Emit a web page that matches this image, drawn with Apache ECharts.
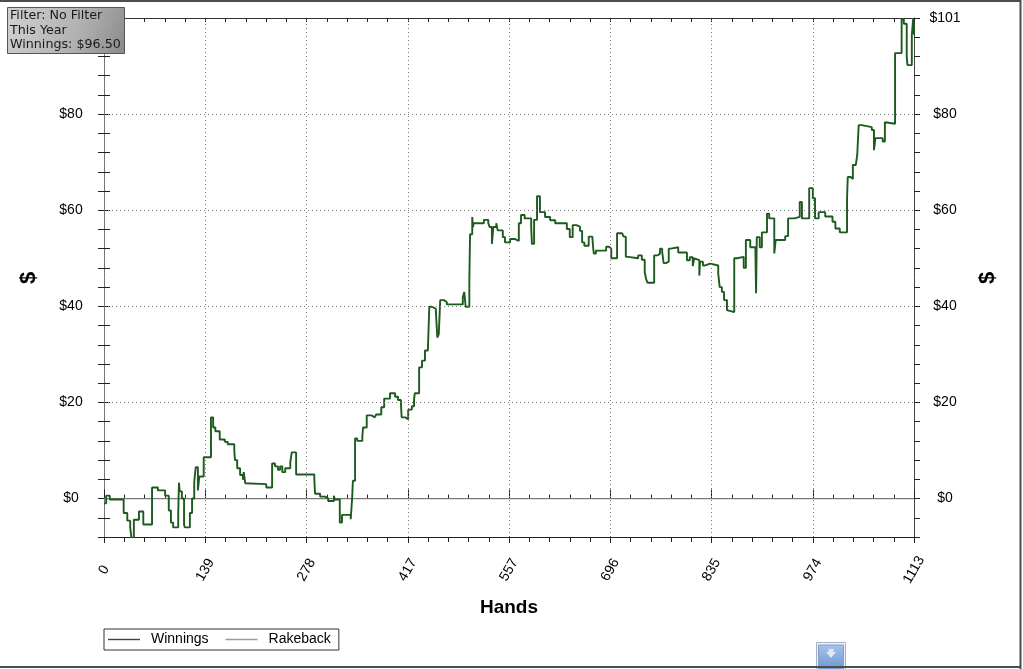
<!DOCTYPE html>
<html><head><meta charset="utf-8">
<script src="https://cdn.jsdelivr.net/npm/echarts@6/dist/echarts.min.js"></script>
<style>html,body{margin:0;padding:0;background:#fff;overflow:hidden}#c{width:1023px;height:669px}</style>
</head><body><div id="c"></div>
<script>
// ---------------- data ----------------
const handsMax = 1113;
const xTickLabels = ['0', '139', '278', '417', '557', '696', '835', '974', '1113'];
const yTickValues = [0, 20, 40, 60, 80, 100];
const yTickLabels = ['$0', '$20', '$40', '$60', '$80', '$101'];
const yMin = -8;
const yMax = 100;

const winningsHands = [
  0, 3, 8, 27, 32, 36, 38, 41, 48, 54, 66, 74, 84, 89, 92, 95, 102, 103, 104, 107,
  110, 111, 118, 121, 124, 126, 129, 131, 137, 147, 150, 153, 159, 166, 170, 179, 180, 183, 187, 191,
  192, 194, 196, 223, 231, 235, 239, 242, 245, 249, 256, 258, 264, 289, 290, 297, 304, 308, 316, 317,
  324, 327, 339, 341, 342, 345,
  348, 355, 356, 361, 368, 372, 374, 381, 385, 393, 400, 404, 408, 409, 414, 418, 423, 426, 427, 433,
  437, 441, 445, 447, 451, 456, 458, 460, 462, 467, 471, 493, 495, 497, 502, 503, 506, 507, 508, 522,
  528, 530, 533, 535, 539, 541, 548, 551, 558, 565, 570, 573, 578, 587, 588, 591, 595, 599, 606, 613,
  620, 636, 640,
  644, 649, 654, 657, 660, 666, 671, 672, 673, 676, 690, 694, 697, 705, 712, 714, 717, 720, 734, 739,
  743, 745, 747, 756, 761, 764, 767, 769, 772, 776, 779, 789, 801, 805, 809, 811, 813, 818, 819, 823,
  826, 833, 844, 846, 849, 852, 856,
  857, 866, 870, 879, 882, 888, 895, 896, 897, 901, 904, 911, 914, 921, 923, 936, 940, 949, 956, 959,
  969, 974, 977, 982, 991, 1001, 1005, 1011, 1021, 1022, 1026, 1029, 1033, 1035, 1037, 1041, 1055, 1058, 1060, 1070,
  1073, 1074, 1087, 1096, 1099, 1103, 1104, 1110, 1112, 1113
];
const winningsValues = [
  -1.0, 0.6, -0.2, -3.0, -4.6, -6.0, -8.5, -4.4, -2.7, -5.4, 2.3, 1.7, 0.6, -2.5, -5.0, -6.0, -3.0, 3.3, 1.5, 0.0,
  -5.4, -6.0, -3.0, 0.0, 3.5, 6.5, 1.7, 4.6, 8.6, 16.9, 14.8, 14.0, 12.3, 11.8, 11.3, 10.0, 8.0, 6.3, 4.9, 3.9,
  5.5, 3.2, 3.0, 2.3, 7.3, 6.7, 6.0, 6.7, 5.5, 6.3, 7.6, 9.6, 5.0, 3.9, 1.0, 0.4, 0.0, -0.5, 0.6, -0.2,
  -5.0, -3.4, -4.3, 0.2, 3.7, 12.5,
  12.0, 13.0, 14.8, 17.3, 16.9, 16.7, 17.5, 19.0, 20.8, 21.9, 21.2, 20.5, 19.8, 16.9, 16.5, 18.5, 19.2, 20.5, 21.9, 27.3,
  28.7, 30.8, 31.2, 39.9, 39.5, 39.0, 33.5, 34.2, 41.3, 40.9, 40.4, 41.9, 43.0, 39.9, 45.4, 55.0, 58.6, 56.5, 57.3, 58.0,
  57.3, 56.5, 53.0, 56.5, 57.3, 55.8, 54.4, 53.3, 54.0, 53.6, 57.3, 59.0, 58.3, 56.5, 53.0, 58.0, 62.9, 59.6, 58.6, 57.9,
  57.3, 56.1, 54.4,
  56.9, 56.6, 55.7, 53.3, 52.6, 54.5, 54.1, 52.4, 51.0, 51.6, 52.4, 52.0, 50.0, 55.2, 55.0, 54.5, 50.3, 50.0, 50.6, 49.7,
  47.1, 45.6, 44.9, 50.6, 51.0, 52.0, 51.3, 49.0, 49.3, 52.0, 52.3, 51.2, 49.6, 50.2, 48.4, 50.0, 49.6, 46.4, 49.3, 48.5,
  48.9, 48.5, 46.8, 44.0, 43.0, 41.3, 39.2,
  38.8, 50.0, 50.3, 48.0, 53.8, 52.3, 52.3, 42.7, 54.4, 52.3, 55.4, 59.3, 58.3, 51.0, 53.8, 54.6, 58.3, 58.6, 61.7, 58.3,
  64.6, 62.5, 58.3, 59.6, 58.7, 57.6, 56.2, 55.4, 62.5, 66.9, 66.5, 69.4, 69.0, 71.5, 77.7, 77.3, 76.7, 72.5, 75.0, 74.3,
  78.3, 78.0, 92.7, 99.8, 98.8, 91.9, 90.2, 96.5, 100.0, 96.5
];
const rakebackHands = [0, 1113];
const rakebackValues = [0, 0];
const infoLines = ['Filter: No Filter', 'This Year', 'Winnings: $96.50'];

// ---------------- chart ----------------
const zip = (xs, ys) => xs.map((x, i) => [x, ys[i]]);
const majorX = handsMax / 8;
const FONT = '"Liberation Sans", Arial, sans-serif';

const chart = echarts.init(document.getElementById('c'), null, { renderer: 'canvas' });

function xBase(extra) {
  return Object.assign({
    type: 'value', min: 0, max: handsMax, interval: majorX, gridIndex: 0,
    splitLine: { show: false },
    axisLabel: { show: false },
    axisLine: { show: false },
    axisTick: { show: false }
  }, extra);
}
function yBase(extra) {
  return Object.assign({
    type: 'value', min: yMin, max: yMax, interval: 4, gridIndex: 0,
    splitLine: { show: false },
    axisLabel: { show: false },
    axisLine: { show: false },
    axisTick: { show: false }
  }, extra);
}
const tickStyle = { color: '#222', width: 1 };
const yFormatter = v => {
  const r = Math.round(v);
  if (Math.abs(v - r) > 1e-6) return '';
  const i = yTickValues.indexOf(r);
  return i >= 0 ? yTickLabels[i] : '';
};

const option = {
  animation: false,
  backgroundColor: '#fff',
  grid: { left: 104, right: 109, top: 18, bottom: 132, containLabel: false },
  legend: {
    data: [
      { name: 'Winnings', icon: 'rect', itemStyle: { color: '#1d5a1d' } },
      { name: 'Rakeback', icon: 'rect', itemStyle: { color: '#9a9a9a' } }
    ],
    left: 104, top: 629,
    orient: 'horizontal',
    padding: [3, 8, 3, 4],
    itemGap: 17, itemWidth: 32, itemHeight: 1.4,
    borderColor: '#333', borderWidth: 1, borderRadius: 0,
    backgroundColor: '#fff',
    textStyle: { fontFamily: FONT, fontSize: 14, color: '#000', padding: [0, 0, 0, 6], lineHeight: 15 }
  },
  xAxis: [
    xBase({
      position: 'bottom',
      axisLine: { show: true, onZero: false, lineStyle: { color: '#222', width: 1 } },
      axisTick: { show: true, length: 6, lineStyle: tickStyle },
      minorTick: { show: true, splitNumber: 5, length: 5, lineStyle: tickStyle },
      axisLabel: {
        show: true, rotate: 60, align: 'center', verticalAlign: 'middle', margin: 33,
        fontFamily: FONT, fontSize: 14, color: '#000',
        formatter: v => { const k = Math.round(v / majorX); return Math.abs(v / majorX - k) < 1e-6 ? (xTickLabels[k] || '') : ''; }
      },
      name: 'Hands', nameLocation: 'middle', nameGap: 61,
      nameTextStyle: { fontFamily: FONT, fontSize: 19, fontWeight: 'bold', color: '#000' }
    }),
    xBase({
      position: 'bottom',
      axisTick: { show: true, inside: true, length: 9, lineStyle: tickStyle },
      minorTick: { show: true, splitNumber: 5, length: 4, lineStyle: tickStyle }
    }),
    xBase({
      position: 'top',
      axisLine: { show: true, onZero: false, lineStyle: { color: '#333', width: 1 } },
      axisTick: { show: true, inside: true, length: 4, lineStyle: tickStyle },
      minorTick: { show: true, splitNumber: 5, length: 4, lineStyle: tickStyle }
    })
  ],
  yAxis: [
    yBase({
      position: 'left',
      axisLine: { show: true, onZero: false, lineStyle: { color: '#777', width: 1 } },
      axisTick: { show: true, length: 6, lineStyle: tickStyle },
      axisLabel: {
        show: true, margin: 33, align: 'center', verticalAlign: 'middle',
        fontFamily: FONT, fontSize: 14, color: '#000', formatter: yFormatter,
        showMinLabel: true, showMaxLabel: true
      }
    }),
    yBase({
      position: 'left',
      axisTick: { show: true, inside: true, length: 6, lineStyle: tickStyle }
    }),
    yBase({
      position: 'right',
      axisLine: { show: true, onZero: false, lineStyle: { color: '#444', width: 1 } },
      axisTick: { show: true, length: 6, lineStyle: tickStyle },
      axisLabel: {
        show: true, margin: 31, align: 'center', verticalAlign: 'middle',
        fontFamily: FONT, fontSize: 14, color: '#000', formatter: yFormatter,
        showMinLabel: true, showMaxLabel: true
      }
    })
  ],
  series: [
    {
      name: 'Rakeback', type: 'line', xAxisIndex: 0, yAxisIndex: 0,
      data: zip(rakebackHands, rakebackValues),
      symbol: 'none', showSymbol: false, silent: true, z: 2,
      color: '#9a9a9a',
      lineStyle: { color: '#7a7a7a', width: 1.2 },
      markLine: {
        silent: true, symbol: ['none', 'none'], animation: false,
        label: { show: false },
        lineStyle: { type: [1, 3], color: '#777', width: 1 },
        emphasis: { disabled: true },
        data: yTickValues.slice(1, 5).map(v => ({ yAxis: v }))
          .concat(xTickLabels.slice(1, 8).map((_, i) => ({ xAxis: (i + 1) * majorX })))
      }
    },
    {
      name: 'Winnings', type: 'line', xAxisIndex: 0, yAxisIndex: 0,
      data: zip(winningsHands, winningsValues),
      step: 'end', symbol: 'none', showSymbol: false, z: 3,
      color: '#1d5a1d',
      lineStyle: { color: '#1d5a1d', width: 1.9 },
      clip: true
    }
  ],
  graphic: [
    // outer frame
    { type: 'line', z: 50, shape: { x1: 0, y1: 1, x2: 1021, y2: 1 }, style: { stroke: '#4d4d4d', lineWidth: 2 } },
    { type: 'line', z: 50, shape: { x1: 1020.5, y1: 0, x2: 1020.5, y2: 669 }, style: { stroke: '#4d4d4d', lineWidth: 2 } },
    { type: 'line', z: 50, shape: { x1: 0, y1: 667, x2: 1021, y2: 667 }, style: { stroke: '#4d4d4d', lineWidth: 2 } },
    // y axis titles
    { type: 'text', z: 50, x: 29, y: 278, rotation: Math.PI / 2,
      style: { text: '$', font: 'bold 22px ' + FONT, fill: '#000', align: 'center', verticalAlign: 'middle' } },
    { type: 'text', z: 50, x: 988, y: 278, rotation: Math.PI / 2,
      style: { text: '$', font: 'bold 22px ' + FONT, fill: '#000', align: 'center', verticalAlign: 'middle' } },
    // info box
    {
      type: 'group', x: 7, y: 7, z: 100,
      children: [
        { type: 'rect', z: 100, shape: { x: 0.5, y: 0.5, width: 117, height: 46 },
          style: {
            fill: new echarts.graphic.LinearGradient(0, 0, 1, 1, [
              { offset: 0, color: '#d2d2d2' }, { offset: 0.6, color: '#b0b0b0' }, { offset: 1, color: '#8a8a8a' }
            ]),
            stroke: '#555', lineWidth: 1
          } },
        ...infoLines.map((t, i) => ({
          type: 'text', z: 101, x: 3, y: 9 + i * 14.5,
          style: { text: t, font: '12.7px "DejaVu Sans", sans-serif', fill: '#1a1a1a', align: 'left', verticalAlign: 'middle' }
        }))
      ]
    },
    // scroll button
    {
      type: 'group', x: 816, y: 642, z: 60,
      children: [
        { type: 'rect', shape: { x: 0.5, y: 0.5, width: 29, height: 28 }, style: { fill: '#eef2f8', stroke: '#a9b3c2', lineWidth: 1 } },
        { type: 'rect', shape: { x: 2.5, y: 3, width: 25, height: 24 },
          style: { fill: new echarts.graphic.LinearGradient(0, 0, 0, 1, [
            { offset: 0, color: '#a7c3ea' }, { offset: 1, color: '#6f98d3' }
          ]), stroke: '#7fa1d2', lineWidth: 1 } },
        { type: 'polygon', shape: { points: [[10, 10], [20, 10], [15, 16]] }, style: { fill: '#dfe9f8' } },
        { type: 'rect', shape: { x: 12.5, y: 7, width: 5, height: 4 }, style: { fill: '#dfe9f8' } }
      ]
    }
  ]
};
chart.setOption(option);
</script>
</body></html>
